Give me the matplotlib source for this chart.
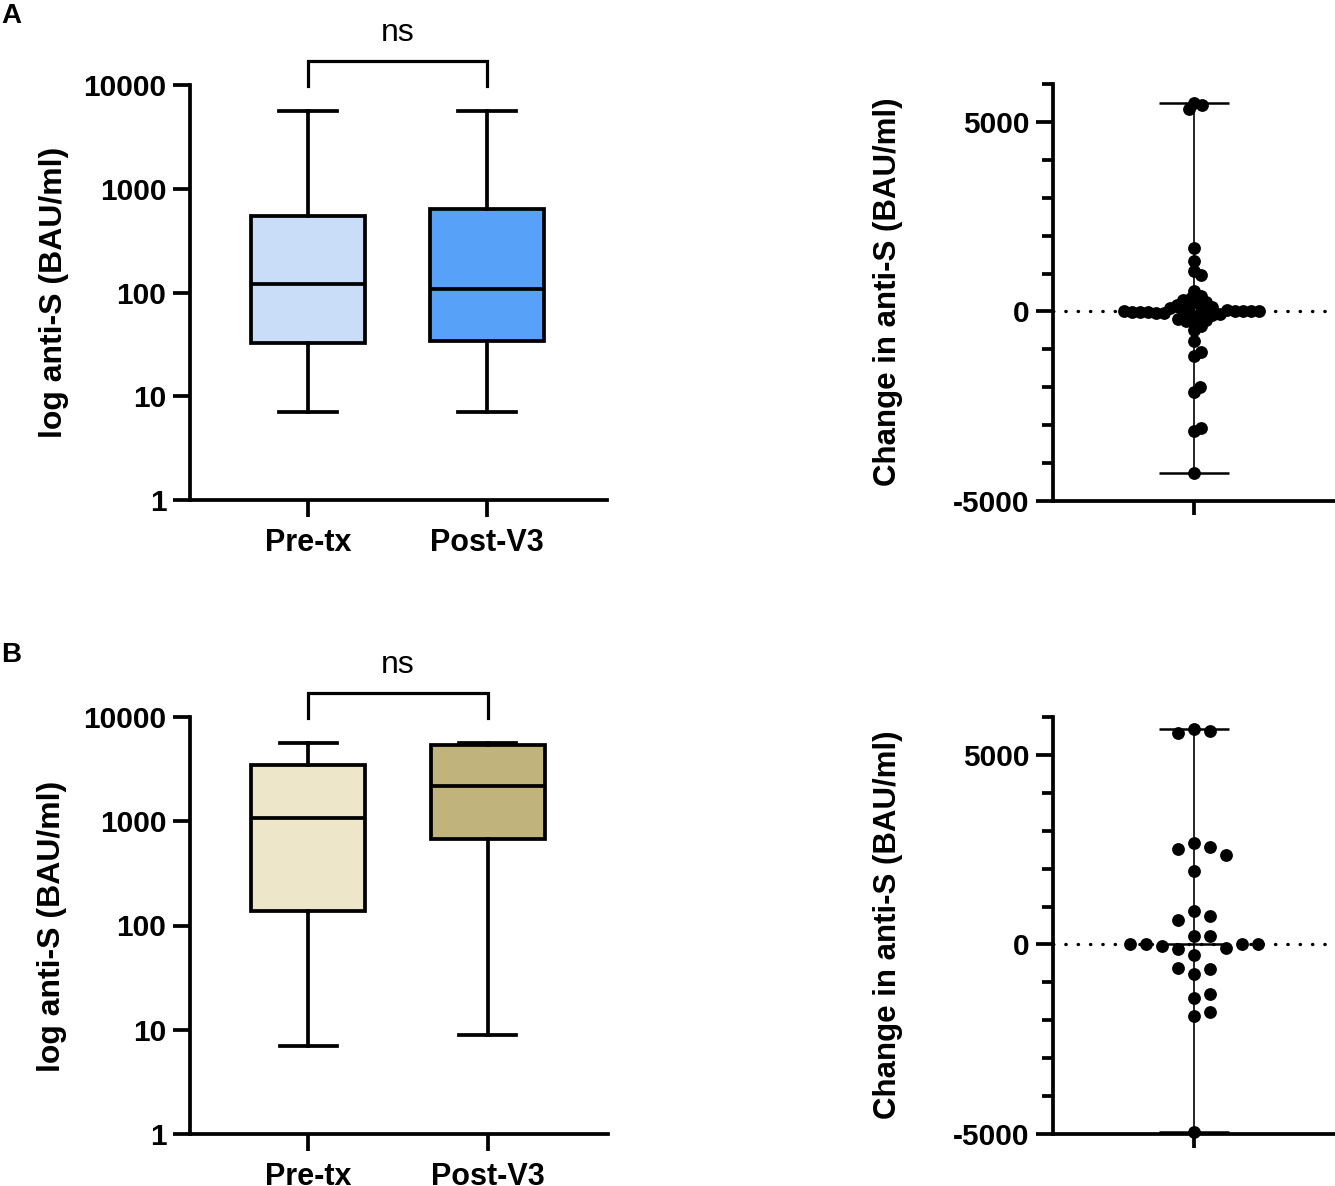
import numpy as np
import matplotlib
matplotlib.use("Agg")
import matplotlib.pyplot as plt
from matplotlib.ticker import FixedLocator, NullLocator

plt.rcParams['font.family'] = ['Liberation Sans', 'DejaVu Sans']

# ---- data ----
groups = ["Pre-tx", "Post-V3"]

# panel A, box plot summaries (BAU/ml)
a_whislo = [7.05, 7.05]
a_q1 = [32.6, 34.0]
a_med = [121, 108]
a_q3 = [546, 638]
a_whishi = [5610, 5610]

# panel B, box plot summaries (BAU/ml)
b_whislo = [6.98, 8.9]
b_q1 = [138, 676]
b_med = [1074, 2178]
b_q3 = [3465, 5385]
b_whishi = [5630, 5630]

# change in anti-S per patient
a_change = [5500, 5450, 5350,
            1685, 1330, 1066, 952, 537,
            420, 350, 300, 260, 220, 180, 150, 120, 90, 60,
            40, 30, 20, 10, 5, 0, 0, -5, -10, -20, -35, -50, -65, -80, -95, -110,
            -200, -230, -260, -280,
            -388, -494, -785, -1076, -1164, -1993, -2125, -3077, -3166, -4268]

b_change = [5680, 5643, 5590, 2680, 2558, 2531, 2354, 1940,
            873, 741, 653, 212, 212, 0, 0, 0, 0, -35, -88, -124,
            -291, -617, -643, -776, -1305, -1411, -1772, -1878, -4939]

a_colors = ["#C9DDF8", "#57A1F8"]
b_colors = ["#EDE6C9", "#C1B37C"]

W, H = 1335, 1186
LW = 2.7


def px_box(l, t, r, b):
    return [l / W, (H - b) / H, (r - l) / W, (b - t) / H]


def style_axes(ax):
    for s in ["top", "right"]:
        ax.spines[s].set_visible(False)
    for s in ["left", "bottom"]:
        ax.spines[s].set_linewidth(LW)
    ax.tick_params(width=LW, length=12, labelsize=21.5, pad=5)
    for lab in ax.get_yticklabels() + ax.get_xticklabels():
        lab.set_fontweight("bold")


def box_panel(ax, whislo, q1, med, q3, whishi, colors):
    stats = []
    for i in range(len(groups)):
        stats.append(dict(whislo=whislo[i], q1=q1[i], med=med[i], q3=q3[i],
                          whishi=whishi[i], fliers=[], label=groups[i]))
    bp = ax.bxp(stats, positions=[0, 1], widths=0.637, capwidths=0.32,
                patch_artist=True, showfliers=False,
                boxprops=dict(linewidth=LW, edgecolor="black"),
                whiskerprops=dict(linewidth=LW, color="black"),
                capprops=dict(linewidth=LW, color="black"),
                medianprops=dict(linewidth=LW, color="black"))
    for patch, c in zip(bp["boxes"], colors):
        patch.set_facecolor(c)
    ax.set_yscale("log")
    ax.set_ylim(1, 10000)
    ax.set_xlim(-0.659, 1.670)
    ax.yaxis.set_major_locator(FixedLocator([1, 10, 100, 1000, 10000]))
    ax.yaxis.set_minor_locator(NullLocator())
    ax.set_yticklabels(["1", "10", "100", "1000", "10000"])
    ax.set_xticks([0, 1])
    ax.set_xticklabels(groups)
    style_axes(ax)
    ax.tick_params(axis="x", labelsize=22, pad=8)
    for lab in ax.get_xticklabels():
        lab.set_fontweight("bold")
    # significance bracket
    tr = ax.get_xaxis_transform()
    ax.plot([0, 0, 1, 1], [0.998, 1.057, 1.057, 0.998], transform=tr,
            color="black", lw=2.3, clip_on=False, solid_joinstyle="miter")
    ax.text(0.5, 1.125, "ns", transform=tr, ha="center", va="center",
            fontsize=23, clip_on=False)


def swarm_offsets(ax, values, min_dist, step):
    # simple beeswarm in pixel space, outermost values placed first
    bbox = ax.get_position()
    ax_h = bbox.height * H
    ax_w = bbox.width * W
    y0, y1 = ax.get_ylim()
    x0, x1 = ax.get_xlim()
    ppy = ax_h / (y1 - y0)
    ppx = ax_w / (x1 - x0)
    med = np.median(values)
    order = np.argsort(-np.abs(values - med), kind="stable")
    placed = []
    offs = np.zeros(len(values))
    cands = [0.0]
    for k in range(1, 300):
        cands += [k * step, -k * step]
    for i in order:
        y = values[i] * ppy
        for c in cands:
            ok = True
            for (px, py) in placed:
                if (c - px) ** 2 + (y - py) ** 2 < min_dist ** 2:
                    ok = False
                    break
            if ok:
                break
        placed.append((c, y))
        offs[i] = c / ppx
    return offs


def change_panel(ax, values, min_dist, step):
    vals = np.array(values, dtype=float)
    ax.set_ylim(-5000, 6000)
    ax.set_xlim(-1, 1)
    ax.yaxis.set_major_locator(FixedLocator([-5000, 0, 5000]))
    ax.yaxis.set_minor_locator(FixedLocator(np.arange(-5000, 6001, 1000)))
    ax.set_yticklabels(["-5000", "0", "5000"])
    ax.set_xticks([0])
    ax.set_xticklabels([""])
    style_axes(ax)
    ax.tick_params(axis="y", which="minor", width=LW, length=8)
    ax.tick_params(axis="x", length=10)
    ax.axhline(0, color="black", lw=2.4, ls=(0, (0.1, 3.6)),
               dash_capstyle="round", zorder=1)
    ax.vlines(0, vals.min(), vals.max(), color="black", lw=1.2, zorder=2)
    ax.hlines([vals.min(), vals.max(), np.median(vals)], -0.245, 0.245,
              color="black", lw=1.8, zorder=2)
    offs = swarm_offsets(ax, vals, min_dist, step)
    ax.scatter(offs, vals, s=85, color="black", zorder=3, clip_on=False,
               linewidths=0)


fig = plt.figure(figsize=(W / 100, H / 100), dpi=100)

axA = fig.add_axes(px_box(190, 85, 607, 500))
box_panel(axA, a_whislo, a_q1, a_med, a_q3, a_whishi, a_colors)
axB = fig.add_axes(px_box(190, 717, 608, 1134))
box_panel(axB, b_whislo, b_q1, b_med, b_q3, b_whishi, b_colors)

axA2 = fig.add_axes(px_box(1053, 84, 1335, 501))
change_panel(axA2, a_change, 7.5, 1.0)
axB2 = fig.add_axes(px_box(1053, 717, 1335, 1134))
change_panel(axB2, b_change, 14.5, 16.0)

ylab = "log anti-S (BAU/ml)"
fig.text(54 / W, 1 - 292 / H, ylab, rotation=90, ha="center", va="center",
         fontsize=23, fontweight="bold")
fig.text(52 / W, 1 - 926 / H, ylab, rotation=90, ha="center", va="center",
         fontsize=23, fontweight="bold")
clab = "Change in anti-S (BAU/ml)"
fig.text(888 / W, 1 - 292 / H, clab, rotation=90, ha="center", va="center",
         fontsize=22.5, fontweight="bold")
fig.text(888 / W, 1 - 925 / H, clab, rotation=90, ha="center", va="center",
         fontsize=22.5, fontweight="bold")

fig.text(11 / W, 1 - 16 / H, "A", ha="center", va="center", fontsize=20,
         fontweight="bold")
fig.text(11 / W, 1 - 655 / H, "B", ha="center", va="center", fontsize=20,
         fontweight="bold")

fig.savefig("out.png", dpi=100)
